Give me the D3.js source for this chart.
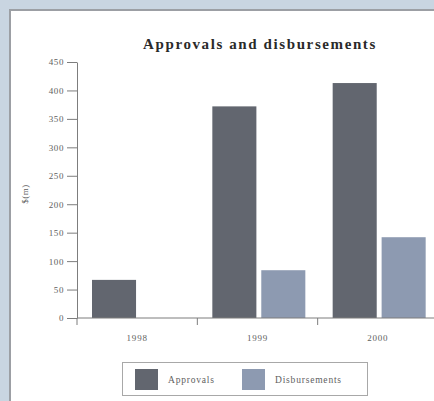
<!DOCTYPE html>
<html>
<head>
<meta charset="utf-8">
<script src="https://cdn.jsdelivr.net/npm/d3@7"></script>
<style>
  body { margin: 0; }
  text { font-family: "Liberation Serif", serif; }
</style>
</head>
<body>
<div id="content"></div>
<script>
// datos
var years = ["1998", "1999", "2000"];
var series = ["Approvals", "Disbursements"];
var approvals = [67, 372, 413];
var disbursements = [0, 84, 142];
var yTicks = [0, 50, 100, 150, 200, 250, 300, 350, 400, 450];
var colors = ["#62666f", "#8d9ab1"];

var width = 434;
var height = 401;

var svg = d3.select("#content")
  .append("svg")
  .attr("width", width)
  .attr("height", height);

// fondo y panel
svg.append("rect").attr("width", width).attr("height", height).attr("fill", "#c9d5e1");
svg.append("rect").attr("x", 9).attr("y", 9).attr("width", width).attr("height", height).attr("fill", "#9c9fa4");
svg.append("rect").attr("x", 11).attr("y", 11).attr("width", width).attr("height", height).attr("fill", "#ffffff");

var x = d3.scaleBand().domain(years).range([77, 438]);
var xs = d3.scaleBand().domain(series).range([15, 108]).paddingInner(0.1);
var y = d3.scaleLinear().domain([0, 450]).range([318, 62]);

var rows = years.map(function(yr, i) {
  return { year: yr, values: [approvals[i], disbursements[i]] };
});

// barras
var groups = svg.append("g")
  .selectAll("g")
  .data(rows)
  .enter().append("g")
  .attr("transform", function(d) { return "translate(" + x(d.year) + ",0)"; });

groups.selectAll("rect")
  .data(function(d) { return d.values.map(function(v, j) { return { s: series[j], v: v, j: j }; }); })
  .enter().append("rect")
  .attr("x", function(d) { return xs(d.s); })
  .attr("width", xs.bandwidth())
  .attr("y", function(d) { return y(d.v); })
  .attr("height", function(d) { return y(0) - y(d.v); })
  .attr("fill", function(d) { return colors[d.j]; });

// eje y
var yAxis = svg.append("g")
  .attr("transform", "translate(77,0)")
  .call(d3.axisLeft(y).tickValues(yTicks).tickSize(10).tickSizeOuter(0).tickPadding(3));
yAxis.select(".domain").attr("stroke", "#7d7d7d");
yAxis.selectAll(".tick line").attr("stroke", "#7d7d7d");
yAxis.selectAll("text")
  .style("font-family", "Liberation Serif, serif")
  .style("font-size", "9px")
  .style("letter-spacing", "0.6px")
  .attr("fill", "#606060");

// eje x
svg.append("line")
  .attr("x1", 77).attr("x2", width)
  .attr("y1", y(0)).attr("y2", y(0))
  .attr("stroke", "#7d7d7d");
svg.append("g").selectAll("line")
  .data(years)
  .enter().append("line")
  .attr("x1", function(d) { return x(d); })
  .attr("x2", function(d) { return x(d); })
  .attr("y1", y(0)).attr("y2", y(0) + 7)
  .attr("stroke", "#7d7d7d");
svg.append("g").selectAll("text")
  .data(years)
  .enter().append("text")
  .attr("x", function(d) { return x(d) + x.bandwidth() / 2; })
  .attr("y", 341)
  .attr("text-anchor", "middle")
  .style("font-size", "9px")
  .style("letter-spacing", "0.8px")
  .attr("fill", "#606060")
  .text(function(d) { return d; });

// etiqueta eje y
svg.append("text")
  .attr("transform", "translate(28,194) rotate(-90)")
  .attr("text-anchor", "middle")
  .style("font-size", "9px")
  .style("letter-spacing", "0.5px")
  .attr("fill", "#606060")
  .text("$(m)");

// titulo
svg.append("text")
  .attr("x", 260)
  .attr("y", 49)
  .attr("text-anchor", "middle")
  .style("font-size", "15px")
  .style("font-weight", "bold")
  .style("letter-spacing", "1.6px")
  .attr("fill", "#2a2a2a")
  .text("Approvals and disbursements");

// leyenda
var legend = svg.append("g");
legend.append("rect")
  .attr("x", 122.5).attr("y", 362.5)
  .attr("width", 245).attr("height", 33)
  .attr("fill", "#fff")
  .attr("stroke", "#a8a8a8");
var legX = [135, 242];
var items = legend.selectAll("g")
  .data(series)
  .enter().append("g")
  .attr("transform", function(d, i) { return "translate(" + legX[i] + ",369)"; });
items.append("rect")
  .attr("width", 23).attr("height", 21)
  .attr("fill", function(d, i) { return colors[i]; });
items.append("text")
  .attr("x", 33).attr("y", 14)
  .style("font-size", "9.5px")
  .style("letter-spacing", "0.8px")
  .attr("fill", "#606060")
  .text(function(d) { return d; });
</script>
</body>
</html>
